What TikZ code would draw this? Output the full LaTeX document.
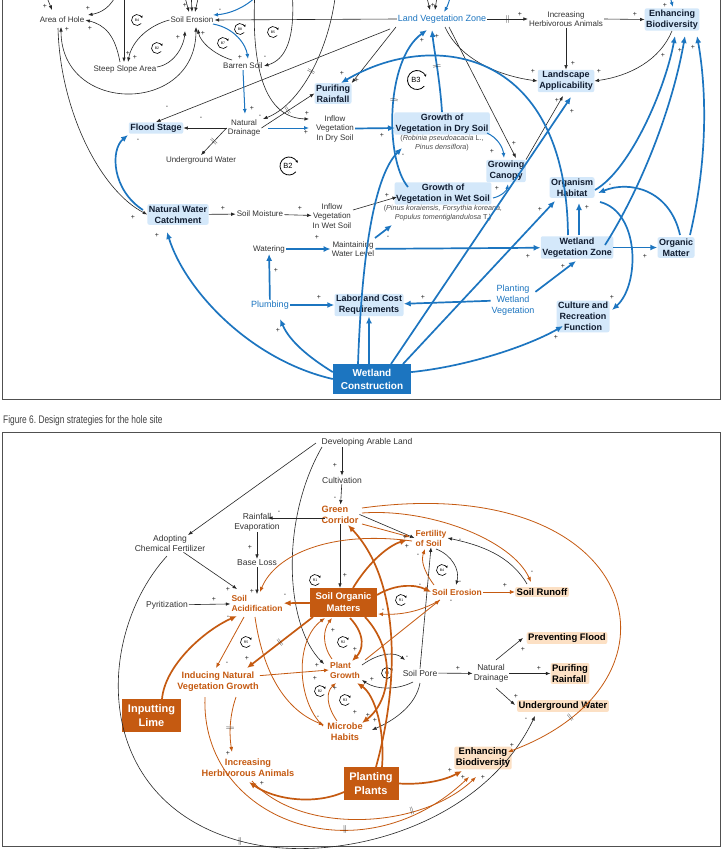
\documentclass[tikz,border=0pt]{standalone}
\usepackage{fontspec}
\setmainfont{Liberation Sans}
\usetikzlibrary{arrows.meta}
\definecolor{cb}{RGB}{28,117,192}
\definecolor{co}{RGB}{197,90,17}
\definecolor{gb}{RGB}{212,232,250}
\definecolor{go}{RGB}{252,224,196}
\definecolor{nv}{RGB}{16,28,48}
\definecolor{fr}{RGB}{80,80,80}
\newcommand\lp[5]{\draw[lpst] (#1,#2) ++(40:#3) arc[start angle=40, end angle=340, radius=#3]; \node[font=\fontsize{#5}{#5}\selectfont, inner sep=0pt] at (#1,#2) {#4};}
\newcommand\sg[3]{\node[sgn] at (#1,#2) {#3};}
\begin{document}
\begin{tikzpicture}[x=1pt,y=-1pt,
  t8/.style={font=\fontsize{8}{9.5}\selectfont, align=center, text=black!80, inner sep=1pt},
  t85/.style={font=\fontsize{8.5}{10}\selectfont, align=center, text=black!80, inner sep=1pt},
  bb/.style={font=\bfseries\fontsize{9}{11}\selectfont, align=center, text=nv, fill=gb, rounded corners=2pt, inner sep=1.5pt},
  bo/.style={font=\bfseries\fontsize{9.5}{11}\selectfont, align=center, text=black, fill=go, rounded corners=2pt, inner sep=1.5pt},
  ot/.style={font=\bfseries\fontsize{8.5}{10}\selectfont, align=center, text=co, inner sep=1pt},
  otl/.style={font=\bfseries\fontsize{9.2}{11}\selectfont, align=center, text=co, inner sep=1pt},
  btx/.style={font=\fontsize{9}{11}\selectfont, align=center, text=cb, inner sep=1pt},
  itx/.style={font=\fontsize{7.2}{9}\selectfont, align=center, text=black!70, inner sep=0pt},
  bbox/.style={fill=cb, text=white, font=\bfseries\fontsize{10}{13}\selectfont, align=center, minimum width=78pt, minimum height=30pt},
  obox/.style={fill=co, text=white, font=\bfseries\fontsize{9.5}{12}\selectfont, align=center, minimum width=67pt, minimum height=29pt},
  obox2/.style={fill=co, text=white, font=\bfseries\fontsize{11}{13.5}\selectfont, align=center, minimum height=33pt},
  sgn/.style={font=\fontsize{7}{7}\selectfont, text=black!85, inner sep=0pt},
  tl/.style={-{Latex[length=4.5pt,width=3.5pt]}, line width=0.6pt, draw=black!85},
  bl/.style={-{Latex[length=7pt,width=6pt]}, line width=1.7pt, draw=cb},
  blt/.style={-{Latex[length=5pt,width=4pt]}, line width=1pt, draw=cb},
  ol/.style={-{Latex[length=7pt,width=6pt]}, line width=1.7pt, draw=co},
  olt/.style={-{Latex[length=5pt,width=4pt]}, line width=0.8pt, draw=co},
  lpst/.style={-{Stealth[length=2.5pt,width=2.5pt]}, line width=0.6pt, draw=black},
  dly/.style={sloped, font=\fontsize{8}{8}\selectfont, inner sep=0pt, text=black!85},
  frm/.style={draw=fr, line width=1pt}
]
\useasboundingbox (0,0) rectangle (724,849);
\fill[white] (0,0) rectangle (724,849);
\draw[frm] (2,-10) rectangle (720.5,399.5);
\draw[frm] (2,432) rectangle (720.5,846.5);
\node[anchor=west, inner sep=0pt, text=black!75, font=\fontsize{11}{12}\selectfont] (caption) at (3,421) {\scalebox{0.76}[1]{Figure 6.\ Design strategies for the hole site}};

% ================= TOP PANEL =================
\node[t8] (AoH) at (62,20) {Area of Hole};
\node[t8] (SE) at (192,20) {Soil Erosion};
\node[t8] (SSA) at (125,69) {Steep Slope Area};
\node[t8] (BS) at (243,66) {Barren Soil};
\node[btx] (LVZ) at (442,19) {Land Vegetation Zone};
\node[t8] (IHA) at (566,19) {Increasing\\Herbivorous Animals};
\node[bb] (EB) at (672,19.5) {Enhancing\\Biodiversity};
\node[bb] (LA) at (566,81) {Landscape\\Applicability};
\node[bb] (PR) at (333,93.5) {Purifing\\Rainfall};
\node[bb] (FS) at (156,128) {Flood Stage};
\node[t8] (ND) at (244,128) {Natural\\Drainage};
\node[t8] (IVD) at (335,128.5) {Inflow\\Vegetation\\In Dry Soil};
\node[t8] (UW) at (201,160) {Underground Water};
\node[bb] (GD) at (442,123.5) {Growth of\\Vegetation in Dry Soil};
\node[itx] (GDs) at (442,143.5) {(\textit{Robinia pseudoacacia} L.,\\\textit{Pinus densiflora})};
\node[bb] (GC) at (506,171) {Growing\\Canopy};
\node[bb] (OH) at (572,187.5) {Organism\\Habitat};
\node[bb] (GW) at (443,193.5) {Growth of\\Vegetation in Wet Soil};
\node[itx] (GWs) at (443,213.5) {(\textit{Pinus koraiensis, Forsythia koreana,}\\\textit{Populus tomentiglandulosa} T.)};
\node[bb] (NWC) at (178,214.5) {Natural Water\\Catchment};
\node[t8] (SM) at (260,214) {Soil Moisture};
\node[t8] (IVW) at (332,216) {Inflow\\Vegetation\\In Wet Soil};
\node[t8] (WAT) at (269,249) {Watering};
\node[t8] (MWL) at (353,249) {Maintaining\\Water Level};
\node[bb] (WVZ) at (577,247.5) {Wetland\\Vegetation Zone};
\node[bb] (OM) at (676,247.5) {Organic\\Matter};
\node[btx] (PL) at (270,305) {Plumbing};
\node[bb] (LCR) at (369,305) {Labor and Cost\\Requirements};
\node[btx] (PWV) at (513,300) {Planting\\Wetland\\Vegetation};
\node[bb] (CRF) at (583,316.5) {Culture and\\Recreation\\Function};
\node[bbox] (WC) at (372,379) {Wetland\\Construction};

% loops top
\lp{137}{20}{5.5}{B4}{3.5}
\lp{157}{48}{5.5}{B2}{3.5}
\lp{223}{43}{5.5}{B7}{3.5}
\lp{240}{29}{5.5}{B8}{3.5}
\lp{273}{32}{5.5}{B5}{3.5}
\draw[lpst, line width=0.8pt] (289,166) ++(40:9) arc[start angle=40, end angle=340, radius=9];
\node[font=\fontsize{7.5}{8}\selectfont, inner sep=0pt] (loopB2) at (288,166) {B2};
\draw[lpst, line width=0.8pt] (417,80) ++(40:9.5) arc[start angle=40, end angle=340, radius=9.5];
\node[font=\fontsize{7.5}{8}\selectfont, inner sep=0pt] (loopB3) at (416,80) {B3};

% thin black top
\draw[tl] (LVZ.west) -- (SE.east);
\draw[tl] (390,29) -- (FS.north);
\draw[tl] (396,27) -- (PR.north east);
\draw[tl] (LVZ.east) -- node[dly]{$\|$} (IHA.west);
\draw[tl] (IHA.east) -- (EB.west);
\draw[tl] (IHA.south) -- (LA.north);
\draw[tl] (EB.south) .. controls (660,60) and (630,76) .. (LA.east);
\draw[tl] (445,27) .. controls (460,60) and (500,76) .. (LA.west);
\draw[tl] (449,27) -- (516,158);
\draw[tl] (GC.north east) -- (563,96);
\draw[tl] (353,210) -- (397,197);
\draw[tl] (NWC) -- (SM);
\draw[tl] (SM) -- (IVW);
\draw[tl] (ND.west) -- (FS.east);
\draw[tl] (ND.west) -- node[dly]{$\|$} (UW.north);
\draw[tl] (ND.east) -- node[dly]{$\|$} (PR.west);
\draw[tl] (336,-10) .. controls (330,50) and (300,105) .. (263,119) node[dly,pos=.5]{$\|$};
\draw[tl] (255,-10) .. controls (250,80) and (270,118) .. (309,119);
\draw[tl] (292,-10) .. controls (296,40) and (285,60) .. (BS.east);
\draw[tl, {Latex[length=4.5pt,width=3.5pt]}-{Latex[length=4.5pt,width=3.5pt]}] (61,27) .. controls (61,115) and (196,115) .. (196,27);
\draw[tl] (58,28) .. controls (60,110) and (100,190) .. (NWC.west);
\draw[tl] (120,62) .. controls (115,35) and (105,25) .. (AoH.east);
\draw[tl] (SE.west) .. controls (150,25) and (132,40) .. (128,62);
\draw[tl] (124,-10) -- (124,62);
\draw[tl] (157,67) .. controls (175,64) and (184,45) .. (185,31);
\draw[tl] (232,60) .. controls (215,55) and (200,42) .. (198,29);
\draw[tl] (44,-10) -- (52,10);
\draw[tl] (118,-10) .. controls (112,8) and (100,13) .. (88,15);
\draw[tl] (183,-10) -- (189,12);
\draw[tl] (191,-10) -- (192,12);
\draw[tl] (200,-10) -- (195,12);
\draw[tl] (425,-10) -- (430,10);
\draw[tl] (438,-10) -- (435,10);

% blue thin top
\draw[blt] (262,-10) .. controls (248,8) and (228,14) .. (213,15);
\draw[blt] (213,24) .. controls (235,28) and (246,45) .. (248,59);
\draw[blt] (BS.south) -- (245,114);
\draw[blt] (268,128) -- (309,128);
\draw[blt] (452,-10) .. controls (449,3) and (447,7) .. (444,12);
\draw[blt] (668,-10) -- (673,7);
\draw[blt] (487,133) .. controls (498,138) and (503,148) .. (504,158);
\draw[blt] (493,198) .. controls (502,196) and (507,190) .. (508,184);

% blue thick top
\draw[bl] (IVD.east) -- (395,128);
\draw[bl] (WC.west) .. controls (250,360) and (185,290) .. (167,232);
\draw[bl] (WC.170) .. controls (310,358) and (290,342) .. (280,319);
\draw[bl] (WC.north -| LCR) -- (LCR.south);
\draw[bl] (391,364) -- (571,97);
\draw[bl] (403,364) -- (555,201);
\draw[bl] (WC.10) .. controls (470,366) and (530,345) .. (563,326);
\draw[bl] (358,364) .. controls (362,250) and (375,175) .. (402,148);
\draw[bl] (408,187) .. controls (385,160) and (385,60) .. (427,30) node[dly,pos=.55]{$\|$};
\draw[bl] (GD.north) .. controls (440,80) and (434,50) .. (432,30) node[dly,pos=.5]{$\|$};
\draw[bl] (375,238) -- (392,225);
\draw[bl] (WAT) -- (MWL);
\draw[bl] (PL) -- (WAT);
\draw[bl] (PL) -- (LCR);
\draw[bl] (PWV) -- (LCR);
\draw[bl] (PWV.20) -- (576,261);
\draw[bl] (MWL) -- (WVZ);
\draw[bl] (WVZ) -- (OM);
\draw[bl] (579,235) -- (579,203);
\draw[bl] (568,235) .. controls (566,45) and (430,30) .. (341,83);
\draw[bl] (680,235) .. controls (670,190) and (630,180) .. (598,193);
\draw[bl] (690,235) .. controls (710,150) and (705,80) .. (697,36);
\draw[bl] (605,245) .. controls (640,190) and (672,110) .. (685,36);
\draw[bl] (595,190) .. controls (630,170) and (665,90) .. (675,36);
\draw[bl] (600,202) .. controls (640,212) and (640,285) .. (612,310);
\draw[bl] (143,210) .. controls (112,190) and (110,150) .. (128,135);

% signs top
\sg{45}{6}{+} \sg{88}{8}{+} \sg{90}{28}{+} \sg{67}{29}{+}
\sg{185}{5}{+} \sg{220}{10}{-} \sg{178}{37}{+} \sg{203}{33}{+}
\sg{128}{53}{+} \sg{135}{57}{+} \sg{240}{57}{+} \sg{265}{57}{-}
\sg{252}{108}{+} \sg{167}{107}{-} \sg{201}{118}{-} \sg{138}{140}{-}
\sg{260}{116}{-} \sg{306}{132}{+} \sg{342}{73}{+} \sg{357}{80}{+}
\sg{433}{5}{+} \sg{520}{14}{+} \sg{635}{14}{+} \sg{665}{5}{+}
\sg{422}{40}{+} \sg{437}{36}{+} \sg{573}{63}{+} \sg{533}{71}{+} \sg{599}{71}{+}
\sg{663}{55}{+} \sg{680}{50}{+} \sg{693}{47}{+} \sg{557}{100}{+} \sg{572}{111}{+}
\sg{382}{135}{+} \sg{403}{155}{-} \sg{514}{143}{+} \sg{492}{151}{+} \sg{610}{185}{-}
\sg{387}{195}{+} \sg{497}{188}{+} \sg{540}{209}{+} \sg{587}{207}{+}
\sg{388}{237}{-} \sg{528}{256}{+} \sg{563}{266}{+} \sg{645}{256}{+}
\sg{423}{297}{+} \sg{612}{297}{+} \sg{556}{337}{+}
\sg{223}{208}{+} \sg{300}{208}{+} \sg{133}{217}{+} \sg{157}{235}{+}
\sg{317}{237}{+} \sg{276}{270}{+} \sg{319}{297}{+} \sg{278}{330}{+} \sg{307}{113}{+}

% ================= BOTTOM PANEL =================
\node[t85] (DAL) at (367,442) {Developing Arable Land};
\node[t85] (CUL) at (342,480) {Cultivation};
\node[otl, align=left] (GCo) at (340,514.5) {Green\\Corridor};
\node[t85] (RE) at (257,522) {Rainfall\\Evaporation};
\node[t85] (BL) at (257,563) {Base Loss};
\node[t85] (ACF) at (170,543) {Adopting\\Chemical Fertilizer};
\node[t85] (PYR) at (167,605) {Pyritization};
\node[ot, align=left] (SA) at (257,603.5) {Soil\\Acidification};
\node[obox] (SOM) at (343.5,602.5) {Soil Organic\\Matters};
\node[ot, align=left] (FOS) at (431,538) {Fertility\\of Soil};
\node[ot] (SEb) at (457,592) {Soil Erosion};
\node[bo] (SR) at (542,592) {Soil Runoff};
\node[ot, align=left] (PG) at (345,670) {Plant\\Growth};
\node[t85] (SP) at (420,673) {Soil Pore};
\node[t85] (NDb) at (491,673.5) {Natural\\Drainage};
\node[bo] (PF) at (567,638) {Preventing Flood};
\node[bo, align=left] (PRb) at (570,673.5) {Purifing\\Rainfall};
\node[bo] (UWb) at (563,706) {Underground Water};
\node[bo] (EBb) at (483,758) {Enhancing\\Biodiversity};
\node[otl] (MH) at (345,732) {Microbe\\Habits};
\node[otl] (INV) at (218,681.5) {Inducing Natural\\Vegetation Growth};
\node[obox2, minimum width=59pt] (IL) at (151.5,715.5) {Inputting\\Lime};
\node[otl] (IHAb) at (248,767.5) {Increasing\\Herbivorous Animals};
\node[obox2, minimum width=55pt] (PP) at (371,783.5) {Planting\\Plants};

% loops bottom
\lp{315}{580}{5.5}{R1}{3.5}
\lp{401}{600}{5.5}{R1}{3.5}
\lp{343}{642}{5.5}{R2}{3.5}
\lp{387}{673}{5.5}{R2}{3.5}
\lp{320}{691}{5.5}{B2}{3.5}
\lp{345}{700}{5.5}{R3}{3.5}
\lp{246}{642}{5.5}{R5}{3.5}
\lp{442}{570}{5.5}{B4}{3.5}

% black bottom
\draw[tl] (DAL.south -| CUL.north) -- (CUL.north);
\draw[tl] (CUL) -- (GCo);
\draw[tl] (325,518) -- (268,518);
\draw[tl] (RE) -- (BL);
\draw[tl] (BL) -- (SA);
\draw[tl] (ACF) -- (237,589);
\draw[tl] (PYR) -- (SA);
\draw[tl] (316,443) -- (188,535);
\draw[tl] (322,447) .. controls (280,520) and (285,625) .. (324,664);
\draw[tl] (167,556) .. controls (95,635) and (90,800) .. (240,841) node[dly]{$\|$} .. controls (330,866) and (480,830) .. (535,716);
\draw[tl] (GCo.east) -- (FOS.west);
\draw[tl] (GCo.south) -- (GCo.south |- SOM.north);
\draw[tl] (527,584) .. controls (510,555) and (480,545) .. (FOS.east);
\draw[tl] (436,549) .. controls (452,555) and (460,570) .. (456,585);
\draw[tl] (SP.north) -- (FOS.south);
\draw[tl] (362,665) .. controls (380,652) and (395,652) .. (405,660);
\draw[tl] (413,682) .. controls (395,691) and (375,689) .. (362,680);
\draw[tl] (420,683) .. controls (416,705) and (395,720) .. (372,730);
\draw[tl] (SP) -- (NDb);
\draw[tl] (496,660) -- (523,638);
\draw[tl] (NDb) -- (PRb);
\draw[tl] (496,688) -- (515,705);

% orange bottom
\draw[ol] (SOM) -- (SA);
\draw[ol] (162,699) .. controls (165,665) and (205,630) .. (237,616);
\draw[olt] (244,617) -- (216,668);
\draw[olt] (255,617) .. controls (264,680) and (290,712) .. (324,725);
\draw[ol] (313,617) -- node[dly]{$\|$} (247,668);
\draw[olt] (INV.8) -- (PG.west);
\draw[olt] (236,697) .. controls (228,720) and (230,740) .. (232,752) node[dly,pos=.5]{$\|$};
\draw[olt] (205,697) .. controls (200,820) and (360,880) .. (469,777) node[dly,pos=.65]{$\|$};
\draw[olt] (252,781) .. controls (300,835) and (420,830) .. (476,777) node[dly,pos=.7]{$\|$};
\draw[ol] (344,792) .. controls (315,805) and (275,800) .. (249,782);
\draw[ol] (PP.east) .. controls (425,785) and (445,780) .. (462,771);
\draw[ol] (382,767) .. controls (385,730) and (375,695) .. (357,683);
\draw[ol] (376,767) .. controls (400,680) and (400,580) .. (348,525);
\draw[ol] (353,588) .. controls (370,560) and (390,545) .. (407,540);
\draw[ol] (377,595) .. controls (395,584) and (415,584) .. (SEb.west);
\draw[olt] (440,600) .. controls (420,612) and (400,615) .. (378,614);
\draw[olt] (SEb) -- (SR);
\draw[olt] (434,585) .. controls (423,570) and (421,560) .. (425,549);
\draw[olt] (362,513) .. controls (430,508) and (512,540) .. (531,582);
\draw[olt] (362,508) .. controls (640,470) and (700,680) .. (508,752) node[dly,pos=.87]{$\|$};
\draw[olt] (362,524) -- (410,537);
\draw[olt] (412,541) .. controls (330,530) and (275,555) .. (260,592);
\draw[ol] (350,618) .. controls (366,635) and (363,650) .. (352,661);
\draw[olt] (332,659) .. controls (322,645) and (323,630) .. (332,618);
\draw[ol] (365,617) .. controls (396,650) and (392,700) .. (362,723);
\draw[olt] (323,726) .. controls (296,700) and (295,640) .. (325,618);
\draw[olt] (337,721) .. controls (326,705) and (326,692) .. (336,683);
\draw[olt] (365,660) -- (440,600);

% signs bottom
\sg{335}{465}{+} \sg{335}{498}{-} \sg{279}{512}{-} \sg{250}{547}{+} \sg{228}{589}{+}
\sg{252}{591}{+} \sg{214}{599}{+} \sg{285}{595}{-} \sg{345}{575}{+} \sg{228}{617}{-}
\sg{405}{537}{+} \sg{407}{546}{+} \sg{460}{540}{-} \sg{418}{555}{-} \sg{420}{585}{-}
\sg{460}{582}{-} \sg{505}{585}{+} \sg{532}{572}{-} \sg{451}{601}{-} \sg{383}{610}{-}
\sg{333}{630}{+} \sg{355}{649}{+} \sg{321}{621}{-} \sg{317}{665}{+} \sg{315}{678}{+}
\sg{335}{688}{+} \sg{407}{657}{-} \sg{372}{679}{+} \sg{355}{712}{+} \sg{368}{715}{+}
\sg{375}{720}{+} \sg{318}{717}{-} \sg{247}{658}{+} \sg{458}{668}{+}
\sg{227}{663}{-} \sg{228}{753}{+} \sg{262}{783}{+}
\sg{523}{649}{+} \sg{539}{668}{+} \sg{516}{696}{+} \sg{526}{719}{-} \sg{512}{745}{+}
\sg{450}{770}{+} \sg{463}{777}{+} \sg{483}{777}{+}
\end{tikzpicture}
\end{document}
